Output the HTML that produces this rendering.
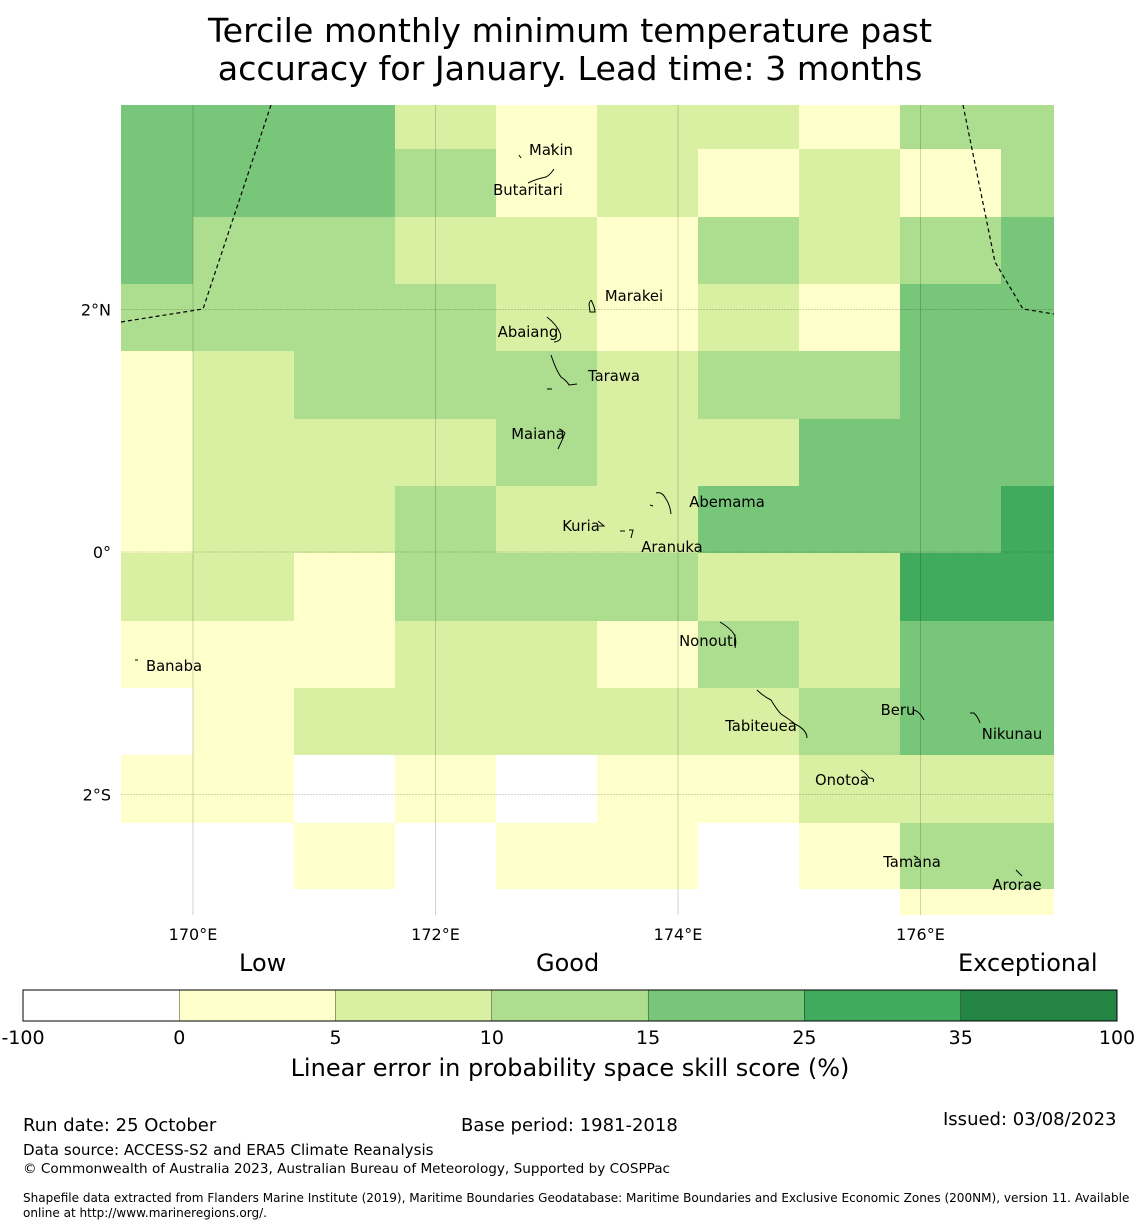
<!DOCTYPE html>
<html><head><meta charset="utf-8"><style>
body{margin:0;background:#fff;font-family:"DejaVu Sans","Liberation Sans",sans-serif;}
#wrap{position:relative;width:1140px;height:1230px;overflow:hidden}
.t{position:absolute;white-space:nowrap;color:#000}
</style></head><body>
<div id="wrap">
<div class="t" style="left:0;width:1140px;top:12px;text-align:center;font-size:33.3px;line-height:38px">Tercile monthly minimum temperature past<br>accuracy for January. Lead time: 3 months</div>
<svg id="map" width="1140" height="1230" style="position:absolute;left:0;top:0;font-family:'DejaVu Sans',sans-serif"></svg>
<div class="t" style="left:239px;top:949px;font-size:24px">Low</div>
<div class="t" style="left:536px;top:949px;font-size:24px">Good</div>
<div class="t" style="left:958px;top:949px;font-size:24px">Exceptional</div>
<div class="t" style="left:0;width:1140px;text-align:center;top:1054px;font-size:24px">Linear error in probability space skill score (%)</div>
<div class="t" style="left:23px;top:1115px;font-size:18px">Run date: 25 October</div>
<div class="t" style="left:461px;top:1115px;font-size:18px">Base period: 1981-2018</div>
<div class="t" style="left:943px;top:1109px;font-size:18px">Issued: 03/08/2023</div>
<div class="t" style="left:23px;top:1141px;font-size:15.1px">Data source: ACCESS-S2 and ERA5 Climate Reanalysis</div>
<div class="t" style="left:23px;top:1161px;font-size:13.6px">© Commonwealth of Australia 2023, Australian Bureau of Meteorology, Supported by COSPPac</div>
<div class="t" style="left:23px;top:1191px;font-size:12.05px;line-height:15px">Shapefile data extracted from Flanders Marine Institute (2019), Maritime Boundaries Geodatabase: Maritime Boundaries and Exclusive Economic Zones (200NM), version 11. Available<br>online at http://www.marineregions.org/.</div>
</div>
<script>
// skill score per cell (rows top→bottom, cols left→right); negative = no skill
const rowSkill = [
 [20,20,20,7,2,7,7,2,12,12],
 [20,20,20,12,2,7,2,7,2,12],
 [20,12,12,7,7,2,12,7,12,20],
 [12,12,12,12,7,2,7,2,20,20],
 [2,7,12,12,12,7,12,12,20,20],
 [2,7,7,7,12,7,7,20,20,20],
 [2,7,7,12,7,7,20,20,20,30],
 [7,7,2,12,12,12,7,7,30,30],
 [2,2,2,7,7,2,12,7,20,20],
 [-5,2,7,7,7,7,7,12,20,20],
 [2,2,-5,2,-5,2,2,7,7,7],
 [-5,-5,2,-5,2,2,-5,2,12,12],
 [-5,-5,-5,-5,-5,-5,-5,-5,2,2]
];
const cbBounds = [-100,0,5,10,15,25,35,100];
const cbColors = ['#ffffff','#ffffcc','#d9f0a3','#addd8e','#78c679','#41ab5d','#238443'];
const lonTicks = [170,172,174,176];
const latTicks = [2,0,-2];
const latTickLabels = ['2°N','0°','2°S'];
const islands = [
 ['Makin',551,150,'M519,155 l2,3 M551,145 l2,3'],['Butaritari',528,190,'M528,183 q8,-4 18,-6 q4,-2 8,-8'],
 ['Marakei',634,296,'M589,304 q2,-6 3,-2 q3,6 3,10 l-5,0z'],['Abaiang',528,332,'M547,317 q10,8 13,16 q3,8 -6,9'],
 ['Tarawa',614,376,'M551,355 q5,15 10,22 q6,4 8,8 l8,-1 M547,389 l5,0'],['Maiana',538,434,'M565,433 q-4,-4 -6,-4 M565,433 q-3,8 -7,16'],
 ['Abemama',727,502,'M656,493 q6,-2 10,6 q4,6 5,15 M650,505 l3,1'],['Kuria',581,526,'M598,521 l6,5 l-5,0'],
 ['Aranuka',672,547,'M620,531 l5,0 M629,530 l4,0 l-2,8'],['Nonouti',708,641,'M720,622 q10,6 14,12 q3,6 1,14'],
 ['Tabiteuea',761,726,'M757,690 q6,6 14,10 q6,10 10,14 q12,8 14,10 q12,6 12,14'],['Beru',898,710,'M914,710 q6,2 10,10'],
 ['Nikunau',1012,734,'M970,713 l4,0 q4,4 6,10'],['Onotoa',842,780,'M861,770 q6,4 8,8 q6,0 4,4'],
 ['Tamana',912,862,'M914,856 l4,2'],['Arorae',1017,885,'M1016,870 l6,6'],['Banaba',174,666,'M135,660 l3,0']
];
const NS='http://www.w3.org/2000/svg', svg=document.getElementById('map');
const X0=121,X1=1054,Y0=105,Y1=915;
const xs=lon=>193+(lon-170)*121.25, ys=lat=>552-lat*121.25;
const colEdges=[121,193,294,395,496,597,698,799,900,1001,1054];
const rowEdges=[105,149,217,284,351,419,486,553,621,688,755,823,889,915];
function el(t,a){const e=document.createElementNS(NS,t);for(const k in a)e.setAttribute(k,a[k]);svg.appendChild(e);return e;}
function col(v){for(let i=0;i<cbColors.length;i++)if(v<cbBounds[i+1])return cbColors[i];return cbColors[6];}
rowSkill.forEach((row,r)=>row.forEach((v,c)=>{
 const e=el('rect',{x:colEdges[c],y:rowEdges[r],width:colEdges[c+1]-colEdges[c],height:rowEdges[r+1]-rowEdges[r],fill:col(v),'shape-rendering':'crispEdges'});
 
 
}));
lonTicks.forEach(l=>{
 const g=el('line',{x1:xs(l),x2:xs(l),y1:Y0,y2:Y1,stroke:'#000','stroke-opacity':0.25,'stroke-width':0.7});
 
 const t=el('text',{x:xs(l),y:940,'font-size':16,'text-anchor':'middle'});t.textContent=l+'°E';
 
});
latTicks.forEach((l,i)=>{
 const g=el('line',{x1:X0,x2:X1,y1:ys(l),y2:ys(l),stroke:'#000','stroke-opacity':0.35,'stroke-width':0.6,'stroke-dasharray':'2,1'});
 
 const t=el('text',{x:111,y:ys(l)+6,'font-size':16,'text-anchor':'end'});t.textContent=latTickLabels[i];
 
});
[[[121,322],[203,309],[271,105]],[[963,105],[995,262],[1023,309],[1054,314]]].forEach(p=>{
 const e=el('polyline',{points:p.map(q=>q.join(',')).join(' '),fill:'none',stroke:'#000','stroke-width':1.2,'stroke-dasharray':'4,3'});
 
});
islands.forEach(([n,x,y,d])=>{
 const s=el('path',{d:d,fill:'none',stroke:'#000','stroke-width':1});
 
 const t=el('text',{x:x,y:y+5,'font-size':14.8,'text-anchor':'middle'});t.textContent=n;
 
});
const cbX0=23,cbW=1094/7;
cbColors.forEach((c,i)=>{
 const e=el('rect',{x:cbX0+i*cbW,y:990,width:cbW,height:31,fill:c,stroke:'#000','stroke-width':0.3});
 
});
el('rect',{x:cbX0,y:990,width:1094,height:31,fill:'none',stroke:'#000','stroke-width':1});
cbBounds.forEach((b,i)=>{
 const t=el('text',{x:cbX0+i*cbW,y:1044,'font-size':19,'text-anchor':'middle'});t.textContent=b;
 
});
</script>
</body></html>
